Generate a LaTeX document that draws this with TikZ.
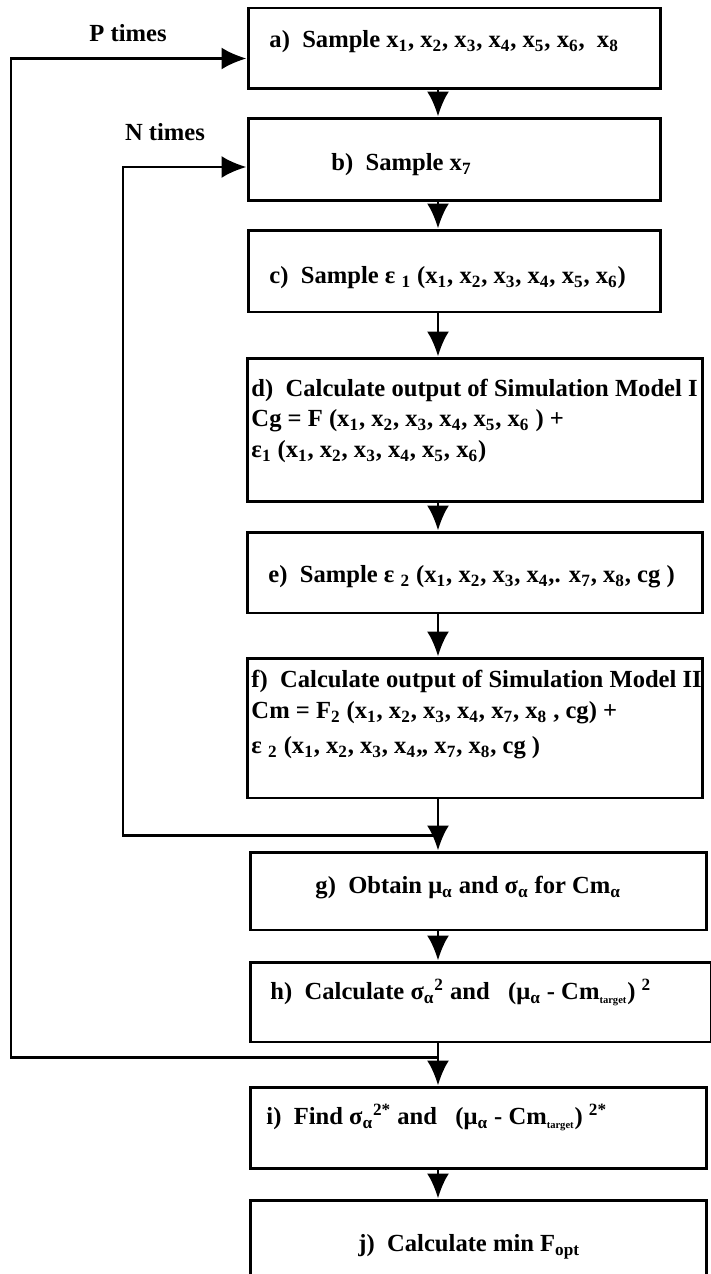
\documentclass[tikz,border=0pt]{standalone}
\usepackage{fontspec}
\setmainfont{Liberation Serif}
\usetikzlibrary{arrows.meta,positioning}

\newcommand{\sbs}[1]{\textsubscript{#1}}
\newcommand{\sps}[1]{\textsuperscript{#1}}
\newcommand{\tgt}{\textsubscript{\fontsize{6}{6}\selectfont target}}

\begin{document}
\begin{tikzpicture}[x=0.02cm, y=-0.02cm, line width=1.7pt,
    >={Latex[length=5mm,width=4.4mm]},
    box/.style={draw, rectangle, inner sep=0pt},
    lab/.style={anchor=west, inner sep=0pt, font=\fontsize{14}{17}\selectfont\bfseries},
    loopname/.style={inner sep=0pt, font=\fontsize{14}{17}\selectfont\bfseries}]
    % --- Frame ---
    \useasboundingbox (0,0) rectangle (710,1274);

    % --- Boxes ---
    \node[box, minimum width=8.26cm, minimum height=1.62cm] (a) at (454.5,48.5) {};
    \node[box, minimum width=8.26cm, minimum height=1.66cm] (b) at (454.5,159.5) {};
    \node[box, minimum width=8.26cm, minimum height=1.64cm] (c) at (454.5,271) {};
    \node[box, minimum width=9.12cm, minimum height=2.88cm] (d) at (475,430) {};
    \node[box, minimum width=9.12cm, minimum height=1.62cm] (e) at (475,572.5) {};
    \node[box, minimum width=9.12cm, minimum height=2.80cm] (f) at (475,728) {};
    \node[box, minimum width=9.14cm, minimum height=1.56cm] (g) at (478.5,891) {};
    \node[box, minimum width=9.24cm, minimum height=1.60cm] (h) at (481,1002) {};
    \node[box, minimum width=9.14cm, minimum height=1.62cm] (i) at (478.5,1127.5) {};
    \node[box, minimum width=9.14cm, minimum height=1.80cm] (j) at (478.5,1245) {};

    % --- Texts ---
    \node[lab] (alab) at (268,42) {a)\ \ Sample x\sbs{1}, x\sbs{2}, x\sbs{3}, x\sbs{4}, x\sbs{5}, x\sbs{6},\ \ x\sbs{8}};
    \node[lab] (blab) at (330,165) {b)\ \ Sample x\sbs{7}};
    \node[lab] (clab) at (268,278) {c)\ \ Sample ε \sbs{1} (x\sbs{1}, x\sbs{2}, x\sbs{3}, x\sbs{4}, x\sbs{5}, x\sbs{6})};
    \node[lab] (dlabA) at (250,390) {d)\ \ Calculate output of Simulation Model I};
    \node[lab] (dlabB) at (250,421) {Cg = F (x\sbs{1}, x\sbs{2}, x\sbs{3}, x\sbs{4}, x\sbs{5}, x\sbs{6} ) +};
    \node[lab] (dlabC) at (250,452) {ε\sbs{1} (x\sbs{1}, x\sbs{2}, x\sbs{3}, x\sbs{4}, x\sbs{5}, x\sbs{6})};
    \node[lab] (elab) at (267,577) {e)\ \ Sample ε \sbs{2} (x\sbs{1}, x\sbs{2}, x\sbs{3}, x\sbs{4},. x\sbs{7}, x\sbs{8}, cg )};
    \node[lab] (flabA) at (250,681) {f)\ \ Calculate output of Simulation Model II};
    \node[lab] (flabB) at (250,713) {Cm = F\sbs{2} (x\sbs{1}, x\sbs{2}, x\sbs{3}, x\sbs{4}, x\sbs{7}, x\sbs{8} , cg) +};
    \node[lab] (flabC) at (250,748) {ε \sbs{2} (x\sbs{1}, x\sbs{2}, x\sbs{3}, x\sbs{4},, x\sbs{7}, x\sbs{8}, cg )};
    \node[lab] (glab) at (314,888) {g)\ \ Obtain μ\sbs{α} and σ\sbs{α} for Cm\sbs{α}};
    \node[lab] (hlab) at (269,992) {h)\ \ Calculate σ\sbs{α}\sps{2} and\ \ \ (μ\sbs{α} - Cm\tgt) \sps{2}};
    \node[lab] (ilab) at (265,1117) {i)\ \ Find σ\sbs{α}\sps{2*} and\ \ \ (μ\sbs{α} - Cm\tgt) \sps{2*}};
    \node[lab] (jlab) at (357,1247) {j)\ \ Calculate min F\sbs{opt}};

    % --- Loop names ---
    \node[loopname] (ptimes) at (128,33) {P times};
    \node[loopname] (ntimes) at (165,132) {N times};

    % --- Main flow ---
    \coordinate (spine) at (438,0);
    \draw[->] (a.south -| spine) -- (b.north -| spine);
    \draw[->] (b.south -| spine) -- (c.north -| spine);
    \draw[->] (c.south -| spine) -- (d.north -| spine);
    \draw[->] (d.south -| spine) -- (e.north -| spine);
    \draw[->] (e.south -| spine) -- (f.north -| spine);
    \draw[->] (f.south -| spine) -- (g.north -| spine);
    \draw[->] (g.south -| spine) -- (h.north -| spine);
    \draw[->] (h.south -| spine) -- (i.north -| spine);
    \draw[->] (i.south -| spine) -- (j.north -| spine);

    % --- Loops ---
    % N loop leaves the f-g arrow, P loop leaves the h-i arrow
    \coordinate (njoin) at (438,835);
    \coordinate (nturn) at (123,835);
    \draw[->] (njoin) -- (nturn) |- ([yshift=-0.15cm]b.west);
    \coordinate (pjoin) at (438,1057);
    \coordinate (pturn) at (11,1057);
    \draw[->] (pjoin) -- (pturn) |- ([yshift=-0.2cm]a.west);
\end{tikzpicture}
\end{document}
